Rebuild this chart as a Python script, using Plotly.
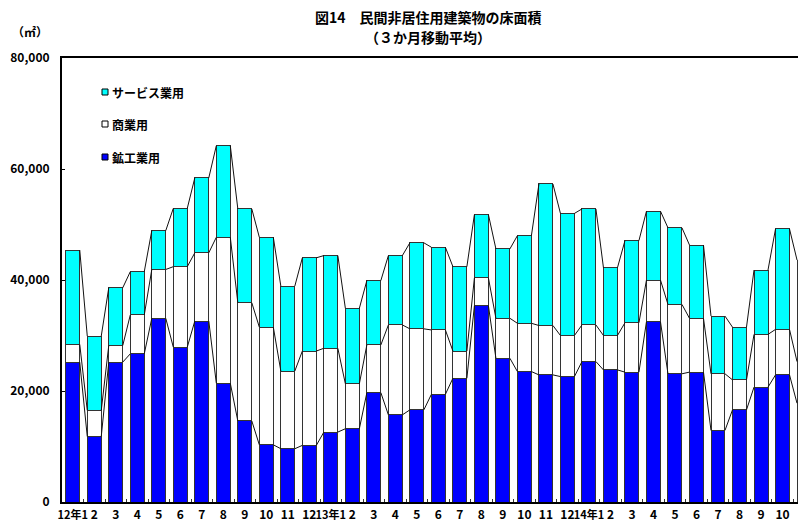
import plotly.graph_objects as go

# ---- data (3-month moving average, m2) ----
labels = ["12年1", "2", "3", "4", "5", "6", "7", "8", "9", "10", "11", "12",
          "13年1", "2", "3", "4", "5", "6", "7", "8", "9", "10", "11", "12",
          "14年1", "2", "3", "4", "5", "6", "7", "8", "9", "10", "11"]

mining_industry = [25200, 11800, 25200, 26700, 33100, 27900, 32600, 21400, 14600, 10300,
                   9600, 10200, 12600, 13200, 19700, 15700, 16600, 19400, 22300, 35400,
                   25900, 23500, 22900, 22600, 25300, 23800, 23400, 32500, 23100, 23400,
                   12900, 16600, 20700, 22900, 17800]
commerce = [3200, 4700, 3000, 7000, 8800, 14500, 12300, 26300, 21300, 21200,
            14000, 17000, 15100, 8100, 8600, 16200, 14600, 11600, 4900, 5000,
            7200, 8700, 8900, 7400, 6600, 6200, 8900, 7500, 12500, 9700,
            10200, 5400, 9500, 8200, 7500]
services = [17000, 13400, 10400, 7800, 7000, 10500, 13500, 16500, 16900, 16200,
            15300, 16800, 16700, 13600, 11600, 12500, 15500, 14900, 15200, 11400,
            12500, 15800, 25500, 22000, 20900, 12200, 14800, 12400, 13800, 13200,
            10400, 9500, 11600, 18100, 18300]

series_names = ["鉱工業用", "商業用", "サービス業用"]
series_colors = ["#0000FF", "#FFFFFF", "#00FFFF"]
y_ticks = [0, 20000, 40000, 60000, 80000]

FONT = "Noto Sans CJK JP, Noto Sans CJK SC, sans-serif"
W, H = 798, 521
ML, MR, MT, MB = 62, 0, 58, 19
BAR_W = 0.65

x = list(range(len(labels)))
tick_text = [f"<span style='font-size:11px'>{t}</span>" if "年" in t else t for t in labels]

fig = go.Figure()

for name, vals, col in zip(series_names, [mining_industry, commerce, services], series_colors):
    fig.add_trace(go.Bar(
        x=x, y=vals, name=name, width=BAR_W,
        marker=dict(color=col, line=dict(color="#333333", width=1)),
        showlegend=False, hoverinfo="skip"))

# series lines connecting stacked tops of neighbouring bars
cum1 = mining_industry
cum2 = [a + b for a, b in zip(mining_industry, commerce)]
cum3 = [a + b + c for a, b, c in zip(mining_industry, commerce, services)]
hw = BAR_W / 2
for lev in (cum1, cum2, cum3):
    xs, ys = [], []
    for i in range(len(lev) - 1):
        xs += [i + hw, i + 1 - hw, None]
        ys += [lev[i], lev[i + 1], None]
    fig.add_trace(go.Scatter(x=xs, y=ys, mode="lines",
                             line=dict(color="#111111", width=1),
                             showlegend=False, hoverinfo="skip"))

plot_w = W - ML - MR
plot_h = H - MT - MB


def px_x(p):
    return (p - ML) / plot_w


def px_y(p):
    return (H - MB - p) / plot_h


ann = []
shapes = []
# title
ann.append(dict(text="図14　民間非居住用建築物の床面積", x=px_x(428), y=px_y(17),
                xref="paper", yref="paper", showarrow=False, xanchor="center", yanchor="middle",
                font=dict(family=FONT, size=14, color="black", weight="bold")))
ann.append(dict(text="（３か月移動平均）", x=px_x(428), y=px_y(37),
                xref="paper", yref="paper", showarrow=False, xanchor="center", yanchor="middle",
                font=dict(family=FONT, size=14, color="black", weight="bold")))
# unit
ann.append(dict(text="（㎡）", x=px_x(10), y=px_y(31),
                xref="paper", yref="paper", showarrow=False, xanchor="left", yanchor="middle",
                font=dict(family=FONT, size=12, color="black", weight="bold")))

# custom legend
leg_items = [("サービス業用", "#00FFFF", 92), ("商業用", "#FFFFFF", 124), ("鉱工業用", "#0000FF", 157)]
for txt, col, py in leg_items:
    shapes.append(dict(type="rect", xref="paper", yref="paper",
                       x0=px_x(102), x1=px_x(108), y0=px_y(py - 3), y1=px_y(py + 3),
                       fillcolor=col, line=dict(color="black", width=1)))
    ann.append(dict(text=txt, x=px_x(110), y=px_y(py), xref="paper", yref="paper",
                    showarrow=False, xanchor="left", yanchor="middle",
                    font=dict(family=FONT, size=12, color="black", weight="bold")))

fig.update_layout(
    width=W, height=H,
    margin=dict(l=ML, r=MR, t=MT, b=MB, pad=0),
    barmode="stack",
    plot_bgcolor="white", paper_bgcolor="white",
    annotations=ann, shapes=shapes,
    showlegend=False,
    xaxis=dict(
        range=[-0.5, 33.72],
        tickmode="array", tickvals=x, ticktext=tick_text,
        tickangle=0, automargin=False,
        ticks="", showgrid=False, zeroline=False,
        showline=True, linecolor="black", linewidth=2, mirror=True,
        tickfont=dict(family=FONT, size=12, color="black", weight="bold"),
        ticklabelstandoff=1,
        minor=dict(tickmode="array", tickvals=[i + 0.5 for i in x], ticks="inside",
                   ticklen=3, tickcolor="#333333", tickwidth=1, showgrid=False),
    ),
    yaxis=dict(
        range=[0, 80000], automargin=False,
        tickmode="array", tickvals=y_ticks,
        tickformat=",",
        ticks="inside", ticklen=3, tickcolor="black",
        showgrid=False, zeroline=False,
        showline=True, linecolor="black", linewidth=2,
        tickfont=dict(family=FONT, size=12, color="black", weight="bold"),
        ticklabelstandoff=8,
    ),
)

fig.write_html("out.html",
               config={"displayModeBar": False},
               post_script="document.body.style.margin='0';document.body.style.padding='0';")
